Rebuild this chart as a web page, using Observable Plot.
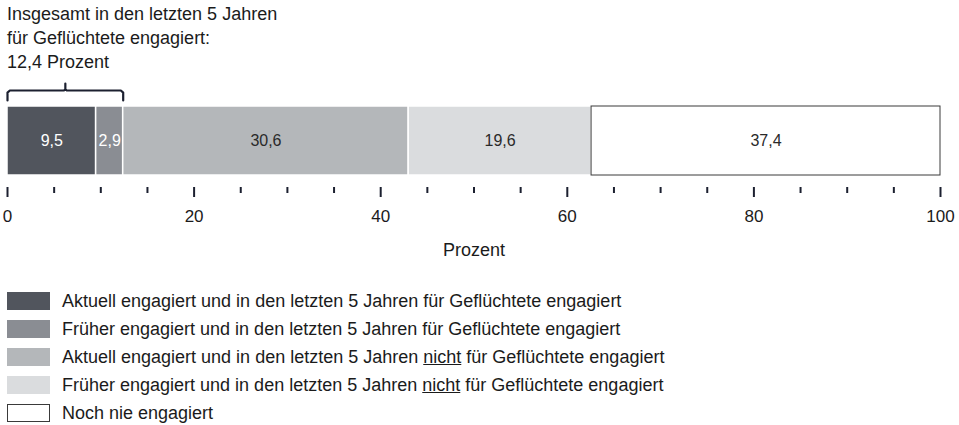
<!DOCTYPE html>
<html>
<head>
<meta charset="utf-8">
<script src="https://cdn.jsdelivr.net/npm/d3@7"></script>
<script src="https://cdn.jsdelivr.net/npm/@observablehq/plot@0.6"></script>
<style>
  html, body { margin: 0; padding: 0; background: #fff; width: 959px; height: 425px; overflow: hidden; }
  body { font-family: "Liberation Sans", Arial, sans-serif; color: #1b1b1b; }
  #title { font-size: 18px; line-height: 24px; padding: 2px 0 0 7px; height: 72px; }
  #legend { padding-top: 13px; }
  .row { display: flex; align-items: center; height: 28px; font-size: 18px; }
  .sw { width: 43px; height: 18px; margin-left: 7px; margin-right: 12px; box-sizing: border-box; }
  svg { display: block; }
</style>
</head>
<body>
<div id="title"></div>
<div id="chart"></div>
<div id="legend"></div>
<script>
// ---- data ----
const categories = [
  "Aktuell engagiert und in den letzten 5 Jahren für Geflüchtete engagiert",
  "Früher engagiert und in den letzten 5 Jahren für Geflüchtete engagiert",
  "Aktuell engagiert und in den letzten 5 Jahren nicht für Geflüchtete engagiert",
  "Früher engagiert und in den letzten 5 Jahren nicht für Geflüchtete engagiert",
  "Noch nie engagiert"
];
const values = [9.5, 2.9, 30.6, 19.6, 37.4];
const colors = ["#51555d", "#8a8d93", "#b4b7ba", "#dadcde", "#ffffff"];
const labelColors = ["#ffffff", "#ffffff", "#2a2a2a", "#2a2a2a", "#2a2a2a"];
const majorTicks = [0, 20, 40, 60, 80, 100];
const minorTicks = [5, 10, 15, 25, 30, 35, 45, 50, 55, 65, 70, 75, 85, 90, 95];
const bracketGroups = [0, 1]; // indices of categories summed under the bracket
const titleLines = ["Insgesamt in den letzten 5 Jahren", "für Geflüchtete engagiert:"];
const axisLabel = "Prozent";

const fmt = v => v.toFixed(1).replace(".", ",");

// ---- derived table ----
const ends = d3.cumsum(values);
const data = values.map((v, i) => ({
  cat: categories[i], value: v, x1: ends[i] - v, x2: ends[i],
  fill: colors[i], label: labelColors[i], last: i === values.length - 1
}));
const bracketTotal = d3.sum(bracketGroups, i => values[i]);

// ---- title ----
document.getElementById("title").innerHTML =
  titleLines.map(t => `<div>${t}</div>`).join("") + `<div>${fmt(bracketTotal)} ${axisLabel}</div>`;

// bracket path in data coordinates (y: bar spans 0..1)
const bx0 = 0, bx1 = bracketTotal, bm = bracketTotal / 2;
const yEnd = 1.087, yTop = 1.232, yNotch = 1.333, c = 0.25, cy = 0.03;
const bracket = [
  [bx0, yEnd], [bx0, yTop - cy], [bx0 + c, yTop],
  [bm - c * 0.6, yTop], [bm, yTop + cy * 0.6], [bm, yNotch], [bm, yTop + cy * 0.6], [bm + c * 0.6, yTop],
  [bx1 - c, yTop], [bx1, yTop - cy], [bx1, yEnd]
];

const chart = Plot.plot({
  width: 959,
  height: 200,
  marginLeft: 7,
  marginRight: 19,
  marginTop: 32,
  marginBottom: 87,
  x: { domain: [0, 100] },
  y: { domain: [0, 1], axis: null, insetBottom: 12 },
  style: { fontFamily: '"Liberation Sans", Arial, sans-serif', fontSize: "17px", color: "#1b1b1b", background: "white", overflow: "visible" },
  marks: [
    Plot.rect(data.filter(d => !d.last), { x1: "x1", x2: "x2", y1: 0, y2: 1, fill: "fill", stroke: "#ffffff", strokeWidth: 1.5 }),
    Plot.rect(data.filter(d => d.last), { x1: "x1", x2: "x2", y1: 0, y2: 1, fill: "fill", stroke: "#3a3a3a", strokeWidth: 1 }),
    Plot.text(data, { x: d => (d.x1 + d.x2) / 2, y: 0.5, text: d => fmt(d.value), fill: "label", fontSize: 16 }),
    Plot.line(bracket, { x: d => d[0], y: d => d[1], stroke: "#1c2030", strokeWidth: 2.2, strokeLinejoin: "round", strokeLinecap: "round" }),
    Plot.axisX({ ticks: majorTicks, tickSize: 10, tickPadding: 12, strokeWidth: 2, stroke: "#1c2030", label: null, fontSize: 17, tickFormat: d => String(d) }),
    Plot.axisX({ ticks: minorTicks, tickSize: 6, strokeWidth: 2, stroke: "#1c2030", label: null, tickFormat: () => "" }),
    Plot.text([axisLabel], { frameAnchor: "bottom", lineAnchor: "top", dy: 56, fontSize: 18, text: d => d })
  ]
});
document.getElementById("chart").appendChild(chart);

// ---- legend ----
const legend = document.getElementById("legend");
categories.forEach((cat, i) => {
  const row = document.createElement("div");
  row.className = "row";
  const sw = document.createElement("div");
  sw.className = "sw";
  sw.style.background = colors[i];
  if (i === categories.length - 1) sw.style.border = "1px solid #3a3a3a";
  const tx = document.createElement("span");
  tx.innerHTML = cat.replace(" nicht ", " <u>nicht</u> ");
  row.appendChild(sw);
  row.appendChild(tx);
  legend.appendChild(row);
});
</script>
</body>
</html>
